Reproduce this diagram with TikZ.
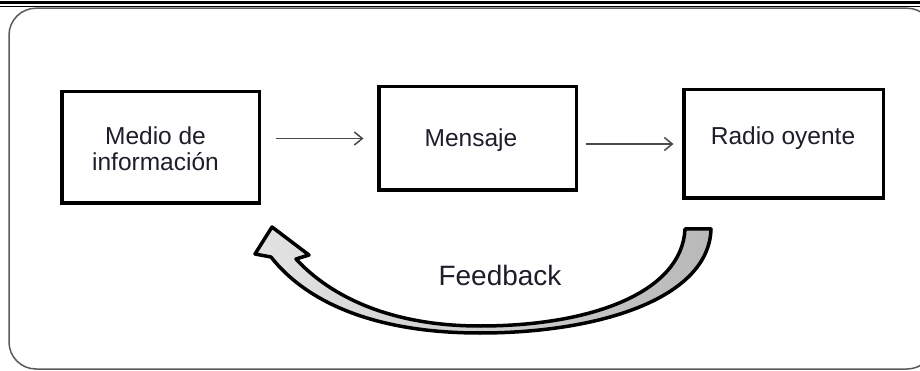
\documentclass[tikz,border=0pt]{standalone}
\usepackage{fontspec}
\setmainfont{Liberation Sans}
\usetikzlibrary{arrows.meta}
\definecolor{txt}{HTML}{1E1E2A}
\definecolor{frame}{HTML}{5A5A5A}
\definecolor{flowc}{HTML}{4A4A4A}
\begin{document}
\begin{tikzpicture}[x=1pt,y=-1pt,
  box/.style={draw=black, line width=3.5pt, fill=white, inner sep=0pt},
  lbl/.style={text=txt, font=\fontsize{24.5}{22}\selectfont, inner sep=0pt},
  flow/.style={draw=flowc, line width=1.5pt, -{Straight Barb[length=8pt,width=13pt,line width=1.5pt]}}
]
\useasboundingbox (0,0) rectangle (920,371);
% top rules
\draw[line width=2.6pt] (0,2.8) -- (920,2.8);
\draw[line width=1pt] (0,6.3) -- (920,6.3);
% frame
\draw[frame, line width=1.5pt, rounded corners=27pt] (9,8.2) rectangle (934,369);
% boxes
\node[box, minimum width=197.5pt, minimum height=111.5pt] (b1) at (160.5,147.5) {};
\node[box, minimum width=197.5pt, minimum height=103.5pt] (b2) at (477.5,138.5) {};
\node[box, minimum width=199.5pt, minimum height=108.5pt] (b3) at (783.5,144) {};
% labels
\node[lbl, align=center] (t1) at (155.5,149) {Medio de\\[4pt]información};
\node[lbl, anchor=base] (t2) at (471,147) {Mensaje};
\node[lbl, anchor=base] (t3) at (783,145) {Radio oyente};
% connectors
\draw[flow, shorten <=14.5pt, shorten >=13.5pt] (b1.east |- b2.west) -- (b2.west);
\draw[flow, shorten <=7.5pt, shorten >=8.5pt] (b2.east |- b3.west) -- (b3.west);
% feedback curved arrow
\coordinate (fbtip) at (272,227);
\filldraw[draw=black, line width=3.5pt, line join=round, left color=gray!22, right color=gray!55]
  (fbtip) -- (309,255) -- (296,259)
  .. controls (330,296) and (390,326) .. (480,326)
  .. controls (592,326) and (682,292) .. (685,229)
  -- (711,229)
  .. controls (709,298) and (600,333) .. (480,333)
  .. controls (378,333) and (308,304) .. (271,257)
  -- (255,254) -- cycle;
\node[text=txt, font=\fontsize{28}{30}\selectfont, inner sep=0pt, anchor=base] (fb) at (500,285) {Feedback};
\end{tikzpicture}
\end{document}
